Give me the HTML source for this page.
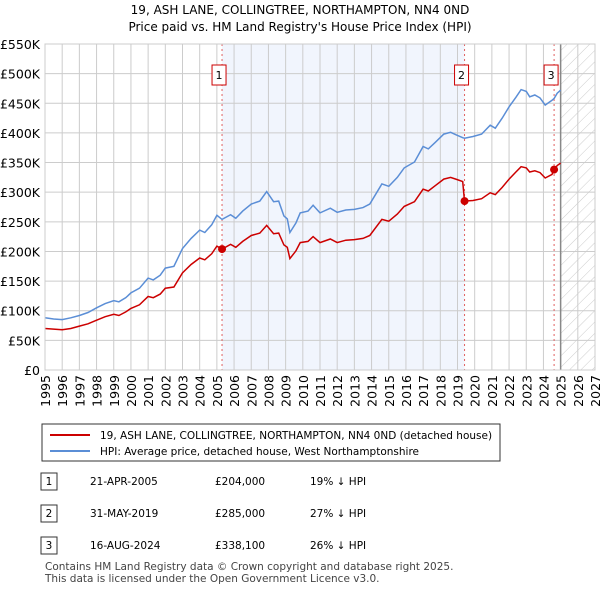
<!DOCTYPE html>
<html><head><meta charset="utf-8"><style>
body{margin:0;background:#fff;font-family:"DejaVu Sans",sans-serif;}
svg text{font-family:"DejaVu Sans","Liberation Sans",sans-serif;}
</style></head><body>
<svg width="600" height="590" viewBox="0 0 600 590" xmlns="http://www.w3.org/2000/svg">
<defs><pattern id="hatch" width="8" height="8" patternUnits="userSpaceOnUse" patternTransform="rotate(45)"><line x1="0" y1="0" x2="0" y2="8" stroke="#ccc" stroke-width="1"/></pattern></defs>
<text x="300" y="14" text-anchor="middle" font-size="12">19, ASH LANE, COLLINGTREE, NORTHAMPTON, NN4 0ND</text>
<text x="300" y="31" text-anchor="middle" font-size="12">Price paid vs. HM Land Registry's House Price Index (HPI)</text>
<g id="plot"></g>
<g>
<rect x="42" y="424" width="458" height="37" fill="#fff" stroke="#333" stroke-width="1"/>
<line x1="50" y1="435" x2="90" y2="435" stroke="#cc0000" stroke-width="2"/>
<text x="100" y="439" font-size="10.5">19, ASH LANE, COLLINGTREE, NORTHAMPTON, NN4 0ND (detached house)</text>
<line x1="50" y1="451" x2="90" y2="451" stroke="#5b8ed6" stroke-width="2"/>
<text x="100" y="455" font-size="10.5">HPI: Average price, detached house, West Northamptonshire</text>
</g>
<g font-size="10.5">
<rect x="41" y="473" width="16" height="17" fill="#fff" stroke="#333"/><text x="49" y="485" text-anchor="middle">1</text>
<text x="90" y="485">21-APR-2005</text><text x="215" y="485">£204,000</text><text x="310" y="485">19% ↓ HPI</text>
<rect x="41" y="505" width="16" height="17" fill="#fff" stroke="#333"/><text x="49" y="517" text-anchor="middle">2</text>
<text x="90" y="517">31-MAY-2019</text><text x="215" y="517">£285,000</text><text x="310" y="517">27% ↓ HPI</text>
<rect x="41" y="537" width="16" height="17" fill="#fff" stroke="#333"/><text x="49" y="549" text-anchor="middle">3</text>
<text x="90" y="549">16-AUG-2024</text><text x="215" y="549">£338,100</text><text x="310" y="549">26% ↓ HPI</text>
</g>
<text x="45" y="570" font-size="10.5" fill="#444">Contains HM Land Registry data © Crown copyright and database right 2025.</text>
<text x="45" y="582" font-size="10.5" fill="#444">This data is licensed under the Open Government Licence v3.0.</text>
</svg>
<script>
const dates=[1995.0,1995.5,1996.0,1996.5,1997.0,1997.5,1998.0,1998.5,1999.0,1999.3,1999.7,2000.0,2000.5,2001.0,2001.3,2001.7,2002.0,2002.5,2003.0,2003.5,2004.0,2004.3,2004.7,2005.0,2005.3,2005.8,2006.1,2006.5,2007.0,2007.5,2007.9,2008.3,2008.6,2008.9,2009.1,2009.25,2009.6,2009.85,2010.3,2010.6,2011.0,2011.6,2012.0,2012.5,2013.0,2013.5,2013.9,2014.6,2015.0,2015.5,2015.9,2016.5,2017.0,2017.3,2017.7,2018.2,2018.6,2018.9,2019.3,2019.41,2019.9,2020.4,2020.9,2021.2,2021.6,2022.0,2022.4,2022.7,2023.0,2023.2,2023.5,2023.8,2024.1,2024.5,2024.62,2024.8,2025.0];
const hpi=[88,86,85,88,92,97,105,112,117,115,122,130,138,155,152,160,172,175,205,222,236,232,245,261,254,262,256,268,280,285,301,284,285,260,255,232,248,265,268,278,265,273,266,270,271,274,280,314,310,325,341,351,377,373,384,398,401,397,392,391,394,398,413,408,425,444,460,473,470,461,464,459,447,455,458,467,472];
const price=[70,69,68,70,74,78,84,90,94,92,98,104,110,124,122,128,138,140,164,178,189,186,196,209,204,212,207,217,227,231,244,230,231,211,207,188,201,215,217,225,215,221,215,219,220,222,227,254,251,263,276,284,305,302,311,322,325,322,318,285,286,289,299,296,308,322,334,343,341,334,336,333,324,330,338,345,349];
const saleDates=[2005.3,2019.41,2024.62];
const salePrices=[204,285,338.1];
const saleLabels=["1","2","3"];
const yTicks=[0,50,100,150,200,250,300,350,400,450,500,550];
const yTickLabels=["£0","£50K","£100K","£150K","£200K","£250K","£300K","£350K","£400K","£450K","£500K","£550K"];
const xYears=[];for(let y=1995;y<=2027;y++)xYears.push(y);

const X0=45,X1=595,Y0=370,Y1=44;
const xs=d=>X0+(d-1995)/(2027-1995)*(X1-X0);
const ys=v=>Y0-v/550*(Y0-Y1);
const NS="http://www.w3.org/2000/svg";
const g=document.getElementById('plot');
function mk(t,a){const e=document.createElementNS(NS,t);for(const k in a)e.setAttribute(k,a[k]);g.appendChild(e);return e;}
let e;
e=mk('rect',{x:xs(saleDates[0]),y:Y1,width:xs(saleDates[1])-xs(saleDates[0]),height:Y0-Y1,fill:'#eef3fc',opacity:0.8});


e=mk('rect',{x:xs(2025),y:Y1,width:xs(2027)-xs(2025),height:Y0-Y1,fill:'url(#hatch)'});


yTicks.forEach((v,i)=>{
  e=mk('line',{x1:X0,x2:X1,y1:ys(v),y2:ys(v),stroke:'#ccc','stroke-width':1});
  
  
  e=mk('text',{x:40,y:ys(v)+5,'text-anchor':'end','font-size':12.5});
  e.textContent=yTickLabels[i];
  
  
});
xYears.forEach(y=>{
  e=mk('line',{x1:xs(y),x2:xs(y),y1:Y1,y2:Y0,stroke:'#ccc','stroke-width':1});
  
  
  e=mk('text',{x:0,y:0,'text-anchor':'end','font-size':12.5,transform:`translate(${xs(y)+5},375) rotate(-90)`});
  e.textContent=y;
  
  
});
e=mk('line',{x1:xs(2025),x2:xs(2025),y1:Y1,y2:Y0,stroke:'#888','stroke-width':1.5});


saleDates.forEach((d,i)=>{
  e=mk('line',{x1:xs(d),x2:xs(d),y1:Y1,y2:Y0,stroke:'#e06060','stroke-width':1,'stroke-dasharray':'2,3'});
  
  
});
const pts=a=>a.map((v,i)=>xs(dates[i]).toFixed(1)+','+ys(v).toFixed(1)).join(' ');
e=mk('polyline',{points:pts(hpi),fill:'none',stroke:'#5b8ed6','stroke-width':1.5});


e=mk('polyline',{points:pts(price),fill:'none',stroke:'#cc0000','stroke-width':1.5});


saleDates.forEach((d,i)=>{
  e=mk('circle',{cx:xs(d),cy:ys(salePrices[i]),r:4,fill:'#cc0000'});
  
  
  e=mk('rect',{x:xs(d)-10,y:65,width:14,height:20,fill:'#fff',stroke:'#cc0000'});
  
  
  e=mk('text',{x:xs(d)-3,y:79,'text-anchor':'middle','font-size':11});
  e.textContent=saleLabels[i];
  
  
});
e=mk('rect',{x:X0,y:Y1,width:X1-X0,height:Y0-Y1,fill:'none',stroke:'#ccc'});


</script>
</body></html>
